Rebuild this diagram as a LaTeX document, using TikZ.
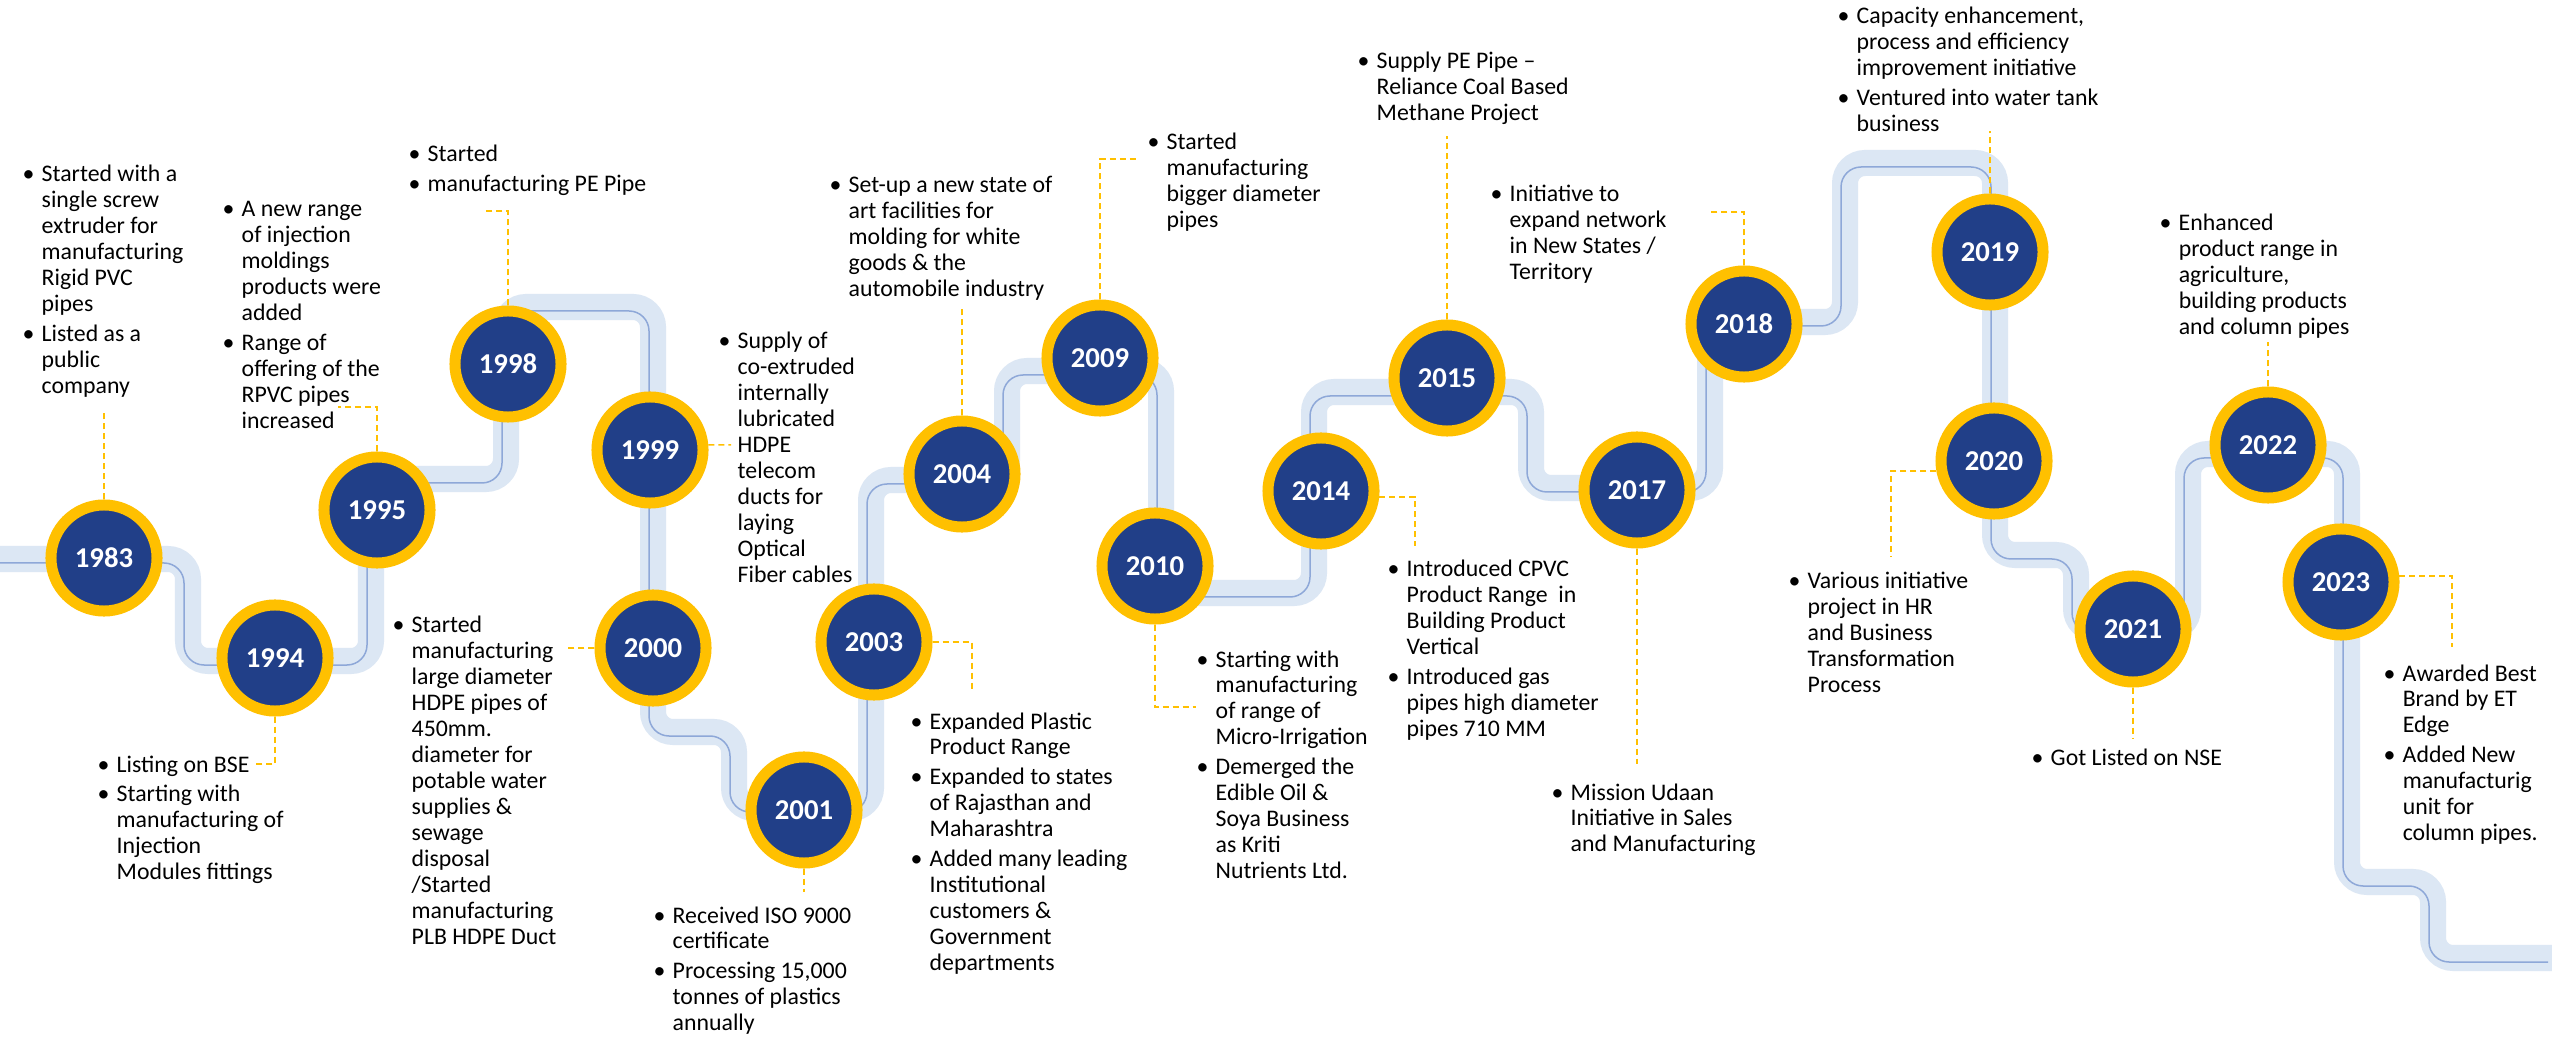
\documentclass[tikz,border=0pt]{standalone}
\usepackage{fontspec}
\setmainfont{Carlito}
\usetikzlibrary{calc}

\definecolor{pipeband}{HTML}{DCE7F4}
\definecolor{pipeline}{HTML}{8EA8D8}
\definecolor{yearblue}{HTML}{213F88}
\definecolor{ringgold}{HTML}{FFC000}

% bullet lists of the milestones
\newcommand{\notelist}[1]{\begin{tabular}[t]{@{}p{0.19cm}@{}l@{}}#1\end{tabular}}
\newcommand{\firstpt}{\textbullet &}
\newcommand{\nextln}{\\ &}
\newcommand{\morept}{\\[0.04cm] \textbullet &}

\tikzset{
  year/.style={circle, fill=yearblue, draw=ringgold, line width=0.11cm,
    minimum size=1.06cm, inner sep=0pt, text=white,
    font=\fontsize{8.17}{9}\selectfont\bfseries},
  note/.style={anchor=base west, inner sep=0pt,
    font=\fontsize{6.77}{7.37}\selectfont},
  leader/.style={draw=ringgold, line width=0.015cm,
    dash pattern=on 0.06cm off 0.04cm}
}

\begin{document}
\begin{tikzpicture}[x=0.01cm, y=-0.01cm]
    % ==== Canvas (pixel units, y downwards) ====
    \path[use as bounding box, fill=white] (0,0) rectangle (2552,1037);

    % ==== The pipe: light band, then the thin line a bit lower left ====
    \foreach \w/\c/\d in {0.26cm/pipeband/0, 0.015cm/pipeline/4}{
        \draw[draw=\c, line width=\w, rounded corners=0.2cm, shift={(-\d,\d)}]
          (0,559) -- (188,559) -- (188,661) -- (371,661) -- (371,479)
          -- (506,479) -- (506,307) -- (653,307) -- (653,732) -- (734,732)
          -- (734,808) -- (871,808) -- (871,480) -- (1007,480) -- (1007,371)
          -- (1161,371) -- (1161,593) -- (1314,593) -- (1314,392) -- (1531,392)
          -- (1531,488) -- (1710,488) -- (1710,322) -- (1845,322) -- (1845,163)
          -- (1995,163) -- (1995,555) -- (2076,555) -- (2076,629) -- (2188,629)
          -- (2188,454) -- (2347,454) -- (2347,882) -- (2433,882) -- (2433,958)
          -- (2552,958);
      }

    % ==== Year rings ====
    \foreach \yr/\px/\py in {1983/104/558, 1994/275/658, 1995/377/510,
        1998/508/364, 1999/650/450, 2000/653/648, 2001/804/810, 2003/874/642,
        2004/962/474, 2009/1100/358, 2010/1155/566, 2014/1321/491,
        2015/1447/378, 2017/1637/490, 2018/1744/324, 2019/1990/252,
        2020/1994/461, 2021/2133/629, 2022/2268/445, 2023/2341/582}{
        \node[year] (y\yr) at (\px,\py) {\yr};
      }

    % ==== Milestone notes ====
    \node[note] (t1983) at (22,182) {\notelist{\firstpt Started with a \nextln single screw
        \nextln extruder for \nextln manufacturing \nextln Rigid PVC \nextln pipes
        \morept Listed as a \nextln public \nextln company}};
    \node[note] (t1995) at (222,217) {\notelist{\firstpt A new range \nextln of injection
        \nextln moldings \nextln products were \nextln added
        \morept Range of \nextln offering of the \nextln RPVC pipes \nextln increased}};
    \node[note] (t1998) at (408,162) {\notelist{\firstpt Started
        \morept manufacturing PE Pipe}};
    \node[note] (t1994) at (97,772) {\notelist{\firstpt Listing on BSE
        \morept Starting with \nextln manufacturing of \nextln Injection
        \nextln Modules fittings}};
    \node[note] (t2000) at (392,633) {\notelist{\firstpt Started \nextln manufacturing
        \nextln large diameter \nextln HDPE pipes of \nextln 450mm. \nextln diameter for
        \nextln potable water \nextln supplies \& \nextln sewage \nextln disposal
        \nextln /Started \nextln manufacturing \nextln PLB HDPE Duct}};
    \node[note] (t1999) at (718,349) {\notelist{\firstpt Supply of \nextln co-extruded
        \nextln internally \nextln lubricated \nextln HDPE \nextln telecom
        \nextln ducts for \nextln laying \nextln Optical \nextln Fiber cables}};
    \node[note] (t2004) at (829,193) {\notelist{\firstpt Set-up a new state of
        \nextln art facilities for \nextln molding for white \nextln goods \& the
        \nextln automobile industry}};
    \node[note] (t2009) at (1147,150) {\notelist{\firstpt Started \nextln manufacturing
        \nextln bigger diameter \nextln pipes}};
    \node[note] (t2001) at (653,923) {\notelist{\firstpt Received ISO 9000
        \nextln certificate \morept Processing 15,000 \nextln tonnes of plastics
        \nextln annually}};
    \node[note] (t2003) at (910,729) {\notelist{\firstpt Expanded Plastic
        \nextln Product Range \morept Expanded to states \nextln of Rajasthan and
        \nextln Maharashtra \morept Added many leading \nextln Institutional
        \nextln customers \& \nextln Government \nextln departments}};
    \node[note] (t2010) at (1196,667) {\notelist{\firstpt Starting with
        \nextln manufacturing \nextln of range of \nextln Micro-Irrigation
        \morept Demerged the \nextln Edible Oil \& \nextln Soya Business
        \nextln as Kriti \nextln Nutrients Ltd.}};
    \node[note] (t2015) at (1357,69) {\notelist{\firstpt Supply PE Pipe --
        \nextln Reliance Coal Based \nextln Methane Project}};
    \node[note] (t2018) at (1490,202) {\notelist{\firstpt Initiative to
        \nextln expand network \nextln in New States / \nextln Territory}};
    \node[note] (t2019) at (1837,24) {\notelist{\firstpt Capacity enhancement,
        \nextln process and efficiency \nextln improvement initiative
        \morept Ventured into water tank \nextln business}};
    \node[note] (t2014) at (1387,577) {\notelist{\firstpt Introduced CPVC
        \nextln Product Range~ in \nextln Building Product \nextln Vertical
        \morept Introduced gas \nextln pipes high diameter \nextln pipes 710 MM}};
    \node[note] (t2017) at (1551,800) {\notelist{\firstpt Mission Udaan
        \nextln Initiative in Sales \nextln and Manufacturing}};
    \node[note] (t2020) at (1788,589) {\notelist{\firstpt Various initiative
        \nextln project in HR \nextln and Business \nextln Transformation
        \nextln Process}};
    \node[note] (t2022) at (2159,231) {\notelist{\firstpt Enhanced
        \nextln product range in \nextln agriculture, \nextln building products
        \nextln and column pipes}};
    \node[note] (t2021) at (2031,765) {\notelist{\firstpt Got Listed on NSE}};
    \node[note] (t2023) at (2383,681) {\notelist{\firstpt Awarded Best
        \nextln Brand by ET \nextln Edge \morept Added New \nextln manufacturig
        \nextln unit for \nextln column pipes.}};

    % ==== Dashed leaders (free ends) ====
    \coordinate (e1983) at (104,413);
    \coordinate (e1994) at (253,764);
    \coordinate (e1995) at (338,407);
    \coordinate (e1998) at (483,211);
    \coordinate (e1999) at (731,445);
    \coordinate (e2000) at (565,648);
    \coordinate (e2001) at (804,892);
    \coordinate (e2003) at (972,690);
    \coordinate (e2004) at (962,307);
    \coordinate (e2009) at (1137,159);
    \coordinate (e2010) at (1196,707);
    \coordinate (e2014) at (1415,546);
    \coordinate (e2015) at (1447,136);
    \coordinate (e2017) at (1637,764);
    \coordinate (e2018) at (1708,212);
    \coordinate (e2019) at (1990,131);
    \coordinate (e2020) at (1891,556);
    \coordinate (e2021) at (2133,739);
    \coordinate (e2022) at (2268,342);
    \coordinate (e2023) at (2452,647);

    \draw[leader] (y1983.north) -- (e1983);
    \draw[leader] (y1994.south) |- (e1994);
    \draw[leader] (y1995.north) |- (e1995);
    \draw[leader] (y1998.north) |- (e1998);
    \draw[leader] (y1999.5) -- (e1999);
    \draw[leader] (y2000.west) -- (e2000);
    \draw[leader] (y2001.south) -- (e2001);
    \draw[leader] (y2003.east) -| (e2003);
    \draw[leader] (y2004.north) -- (e2004);
    \draw[leader] (y2009.north) |- (e2009);
    \draw[leader] (y2010.south) |- (e2010);
    \draw[leader] (y2014.354) -| (e2014);
    \draw[leader] (y2015.north) -- (e2015);
    \draw[leader] (y2017.south) -- (e2017);
    \draw[leader] (y2018.north) |- (e2018);
    \draw[leader] (y2019.north) -- (e2019);
    \draw[leader] (y2020.190) -| (e2020);
    \draw[leader] (y2021.south) -- (e2021);
    \draw[leader] (y2022.north) -- (e2022);
    \draw[leader] (y2023.6) -| (e2023);
  \end{tikzpicture}
\end{document}
